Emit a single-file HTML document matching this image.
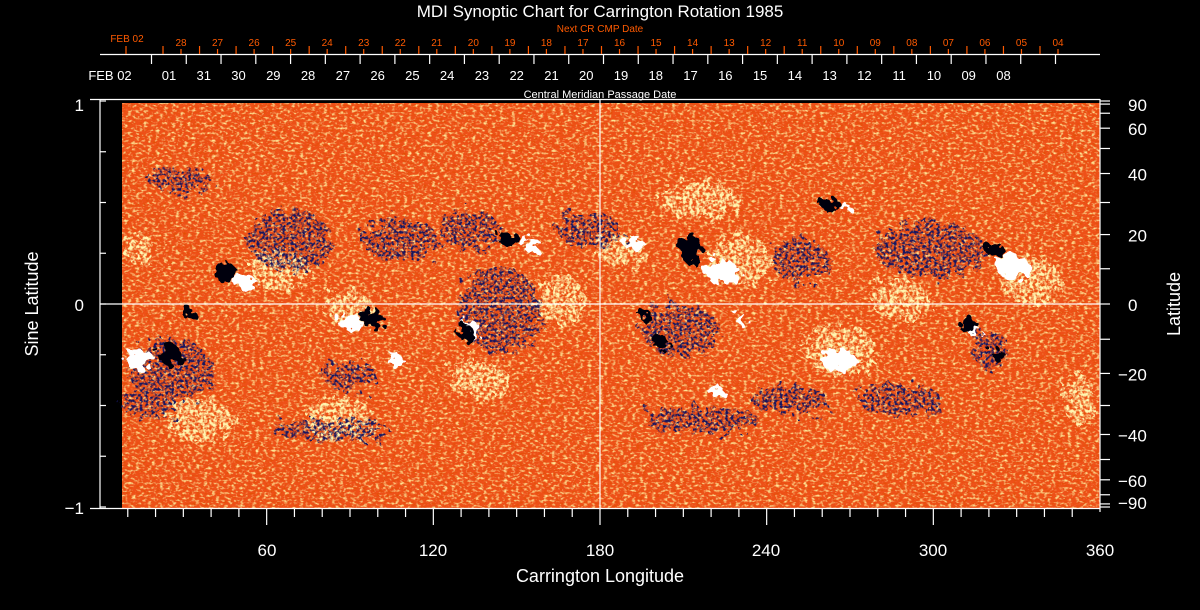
<!DOCTYPE html>
<html><head><meta charset="utf-8"><style>
html,body{margin:0;padding:0;background:#000;}
svg{display:block;}
text{font-family:"Liberation Sans",sans-serif;}
</style></head><body>
<svg width="1200" height="610" viewBox="0 0 1200 610" xmlns="http://www.w3.org/2000/svg">
<defs>
<filter id="noise" x="0" y="0" width="100%" height="100%">
<feTurbulence type="fractalNoise" baseFrequency="0.25 0.4" numOctaves="2" seed="3" result="t"/>
<feColorMatrix in="t" type="matrix" values="0 0 0 0 1  0 0 0 0 0.8  0 0 0 0 0.3  3.2 0 0 0 -1.6" result="y"/>
<feTurbulence type="fractalNoise" baseFrequency="0.3 0.6" numOctaves="1" seed="9" result="t2"/>
<feColorMatrix in="t2" type="matrix" values="0 0 0 0 0.75  0 0 0 0 0.08  0 0 0 0 0  0 3 0 0 -1.45" result="r"/>
<feMerge><feMergeNode in="r"/><feMergeNode in="y"/></feMerge>
</filter>
<filter id="rough" x="-50%" y="-50%" width="200%" height="200%">
<feTurbulence type="fractalNoise" baseFrequency="0.12" numOctaves="2" seed="5" result="n"/>
<feDisplacementMap in="SourceGraphic" in2="n" scale="22"/>
</filter>
<filter id="speck" x="-50%" y="-50%" width="200%" height="200%">
<feTurbulence type="fractalNoise" baseFrequency="0.12" numOctaves="2" seed="5" result="n"/>
<feDisplacementMap in="SourceGraphic" in2="n" scale="30" result="d"/>
<feTurbulence type="fractalNoise" baseFrequency="0.35" numOctaves="2" seed="11" result="t"/>
<feColorMatrix in="t" type="matrix" values="0 0 0 0 0  0 0 0 0 0  0 0 0 0 0  4 0 0 0 -1.7" result="m"/>
<feComposite in="d" in2="m" operator="in"/>
</filter>
<filter id="speckY" x="-50%" y="-50%" width="200%" height="200%">
<feTurbulence type="fractalNoise" baseFrequency="0.12" numOctaves="2" seed="7" result="n"/>
<feDisplacementMap in="SourceGraphic" in2="n" scale="30" result="d"/>
<feTurbulence type="fractalNoise" baseFrequency="0.3" numOctaves="2" seed="13" result="t"/>
<feColorMatrix in="t" type="matrix" values="0 0 0 0 0  0 0 0 0 0  0 0 0 0 0  4 0 0 0 -1.6" result="m"/>
<feComposite in="d" in2="m" operator="in"/>
</filter>
</defs>
<rect x="122" y="103" width="978" height="405" fill="#ee5018"/>
<rect x="122" y="103" width="978" height="405" filter="url(#noise)"/>
<g filter="url(#speckY)" fill="#fff6b0">
<ellipse cx="280" cy="270" rx="30" ry="20"/><ellipse cx="340" cy="420" rx="35" ry="22"/>
<ellipse cx="200" cy="420" rx="35" ry="22"/><ellipse cx="740" cy="260" rx="30" ry="25"/>
<ellipse cx="840" cy="350" rx="35" ry="25"/><ellipse cx="1030" cy="280" rx="30" ry="25"/>
<ellipse cx="620" cy="250" rx="25" ry="15"/><ellipse cx="350" cy="310" rx="25" ry="20"/>
<ellipse cx="140" cy="250" rx="15" ry="15"/><ellipse cx="1080" cy="400" rx="15" ry="25"/>
<ellipse cx="480" cy="380" rx="30" ry="20"/><ellipse cx="560" cy="300" rx="25" ry="25"/>
<ellipse cx="900" cy="300" rx="30" ry="20"/><ellipse cx="700" cy="200" rx="40" ry="18"/>
</g>
<g filter="url(#speck)" fill="#141460">
<ellipse cx="170" cy="370" rx="42" ry="32"/><ellipse cx="150" cy="405" rx="28" ry="14"/>
<ellipse cx="500" cy="310" rx="42" ry="42"/><ellipse cx="350" cy="375" rx="28" ry="14"/>
<ellipse cx="680" cy="330" rx="38" ry="27"/><ellipse cx="930" cy="250" rx="55" ry="28"/>
<ellipse cx="900" cy="400" rx="42" ry="15"/><ellipse cx="790" cy="400" rx="38" ry="14"/>
<ellipse cx="290" cy="240" rx="42" ry="30"/><ellipse cx="590" cy="230" rx="32" ry="18"/>
<ellipse cx="400" cy="240" rx="38" ry="22"/><ellipse cx="800" cy="260" rx="28" ry="22"/>
<ellipse cx="180" cy="180" rx="32" ry="12"/><ellipse cx="990" cy="350" rx="18" ry="20"/>
<ellipse cx="470" cy="230" rx="30" ry="20"/><ellipse cx="700" cy="420" rx="60" ry="12"/>
<ellipse cx="330" cy="430" rx="60" ry="10"/>
</g>
<g filter="url(#rough)">
<g fill="#fff">
<ellipse cx="245" cy="282" rx="12" ry="7"/><ellipse cx="140" cy="360" rx="14" ry="11"/>
<ellipse cx="532" cy="245" rx="10" ry="6"/><ellipse cx="470" cy="330" rx="11" ry="9"/>
<ellipse cx="722" cy="272" rx="17" ry="12"/><ellipse cx="1012" cy="266" rx="17" ry="12"/>
<ellipse cx="838" cy="360" rx="17" ry="12"/><ellipse cx="350" cy="322" rx="11" ry="9"/>
<ellipse cx="632" cy="242" rx="10" ry="7"/><ellipse cx="742" cy="320" rx="6" ry="5"/>
<ellipse cx="715" cy="390" rx="8" ry="5"/><ellipse cx="845" cy="207" rx="5" ry="4"/>
<ellipse cx="975" cy="332" rx="7" ry="5"/><ellipse cx="395" cy="360" rx="8" ry="6"/>
</g>
<g fill="#000010">
<ellipse cx="225" cy="272" rx="11" ry="10"/><ellipse cx="170" cy="355" rx="12" ry="10"/>
<ellipse cx="372" cy="318" rx="11" ry="10"/><ellipse cx="510" cy="240" rx="11" ry="8"/>
<ellipse cx="465" cy="332" rx="8" ry="8"/><ellipse cx="690" cy="248" rx="10" ry="16"/>
<ellipse cx="660" cy="342" rx="8" ry="7"/><ellipse cx="830" cy="204" rx="10" ry="6"/>
<ellipse cx="995" cy="250" rx="10" ry="6"/><ellipse cx="968" cy="325" rx="10" ry="7"/>
<ellipse cx="998" cy="355" rx="6" ry="6"/><ellipse cx="645" cy="315" rx="6" ry="6"/>
<ellipse cx="190" cy="315" rx="6" ry="6"/>
</g>
</g>
<g stroke="#fff" stroke-width="1.2" fill="none">
<line x1="600" y1="100" x2="600" y2="508"/>
<line x1="100" y1="304" x2="1100" y2="304"/>
<line x1="90" y1="99.5" x2="1100" y2="99.5"/>
<line x1="100" y1="99" x2="100" y2="508"/>
<line x1="1100" y1="99" x2="1100" y2="512"/>
<line x1="90" y1="508.5" x2="1100" y2="508.5"/>
<line x1="100" y1="54.5" x2="1100" y2="54.5"/>
</g>
<g stroke="#fff" stroke-width="1.2" id="bt"></g>
<g stroke="#ff5a00" stroke-width="1.2" id="ot"></g>
<g stroke="#fff" stroke-width="1.2" id="rt"></g>
<g stroke="#fff" stroke-width="1.2" id="lt"></g>
<g fill="#fff" font-size="13" text-anchor="middle" id="wd"></g>
<g fill="#ff5a00" font-size="10" text-anchor="middle" id="od"></g>
<text x="600" y="17" fill="#fff" font-size="17" text-anchor="middle">MDI Synoptic Chart for Carrington Rotation 1985</text>
<text x="600" y="32" fill="#ff5a00" font-size="10" text-anchor="middle">Next CR CMP Date</text>
<text x="127" y="42" fill="#ff5a00" font-size="10" text-anchor="middle">FEB 02</text>
<text x="110" y="80" fill="#fff" font-size="13" text-anchor="middle">FEB 02</text>
<text x="600" y="98" fill="#fff" font-size="11" text-anchor="middle">Central Meridian Passage Date</text>
<g fill="#fff" font-size="17" text-anchor="end">
<text x="84" y="111">1</text><text x="84" y="311">0</text><text x="84" y="514">−1</text>
</g>
<text transform="translate(38,304) rotate(-90)" fill="#fff" font-size="18" text-anchor="middle">Sine Latitude</text>
<text transform="translate(1180,304) rotate(-90)" fill="#fff" font-size="18" text-anchor="middle">Latitude</text>
<g fill="#fff" font-size="17" text-anchor="middle">
<text x="267" y="556">60</text><text x="433" y="556">120</text><text x="600" y="556">180</text>
<text x="766" y="556">240</text><text x="933" y="556">300</text><text x="1100" y="556">360</text>
</g>
<text x="600" y="582" fill="#fff" font-size="18" text-anchor="middle">Carrington Longitude</text>
<g fill="#fff" font-size="17" id="rl"></g>
<script>
var ns="http://www.w3.org/2000/svg";
function L(g,x1,y1,x2,y2){var l=document.createElementNS(ns,"line");l.setAttribute("x1",x1);l.setAttribute("y1",y1);l.setAttribute("x2",x2);l.setAttribute("y2",y2);document.getElementById(g).appendChild(l);}
function T(g,x,y,s,a){var t=document.createElementNS(ns,"text");t.setAttribute("x",x);t.setAttribute("y",y);if(a)t.setAttribute("text-anchor",a);t.textContent=s;document.getElementById(g).appendChild(t);}
for(var d=10;d<360;d+=10){var x=100+d*1000/360;L("bt",x,508,x,d%60==0?525:517);}
var wd=["01","31","30","29","28","27","26","25","24","23","22","21","20","19","18","17","16","15","14","13","12","11","10","09","08"];
var s=(1073-169)/26;
for(var i=0;i<27;i++){var x=169+i*s;L("bt",x-17.5,54,x-17.5,64);}
wd.forEach(function(v,i){T("wd",169+i*(1073-169)/26,80,v);});
var od=["28","27","26","25","24","23","22","21","20","19","18","17","16","15","14","13","12","11","10","09","08","07","06","05","04"];
var os=(1058-181)/24;
L("ot",126,46,126,54);
for(var i=0;i<25;i++){var x=181+i*os;T("od",x,46,od[i]);L("ot",x,49,x,54);L("ot",x-18,46,x-18,54);}
for(var a=-90;a<=90;a+=10){var y=304-203*Math.sin(a*Math.PI/180);L("rt",1100,y,1110,y);}
[90,60,40,20,0,-20,-40,-60,-90].forEach(function(a){var y=304-203*Math.sin(a*Math.PI/180);var yy=a==90?111:a==-90?509:y+7;T("rl",a<0?1118:1128,yy,(a<0?"−":"")+Math.abs(a));});
for(var v=-1;v<=1.001;v+=0.25){var y=304-203*v;L("lt",100,y,106,y);}
</script>
</svg>
</body></html>
